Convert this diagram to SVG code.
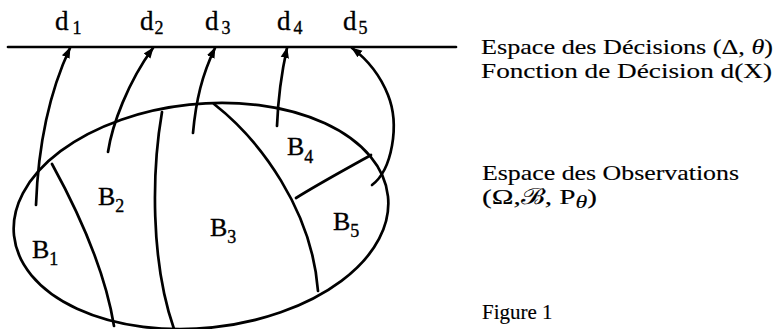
<svg xmlns="http://www.w3.org/2000/svg" width="776" height="329" viewBox="0 0 776 329">
<defs>
<style>
.ln{fill:none;stroke:#000;stroke-width:2.7;stroke-linecap:round}
.t{font-family:"Liberation Serif","DejaVu Serif",serif;fill:#000;stroke:#000;stroke-width:0.35}
.lab{font-size:26px}
.sub{font-size:18px}
.dl{font-size:27px}
.rt{font-size:22px;stroke-width:0.15}
</style>
<marker id="ah" markerWidth="12" markerHeight="10" refX="10" refY="5" orient="auto" markerUnits="userSpaceOnUse">
<path d="M0,0.8 L11,5 L0,9.2 Z" fill="#000"/>
</marker>
</defs>
<rect width="776" height="329" fill="#fff"/>
<g id="decision-line">
<line class="ln" x1="8" y1="47" x2="456" y2="47"/>
<g class="t dl">
<text x="55" y="30">d<tspan class="sub" dx="4" dy="4">1</tspan></text>
<text x="140" y="30">d<tspan class="sub" dx="1" dy="4">2</tspan></text>
<text x="205" y="30">d<tspan class="sub" dx="3" dy="4">3</tspan></text>
<text x="277" y="30">d<tspan class="sub" dx="3" dy="4">4</tspan></text>
<text x="343" y="30">d<tspan class="sub" dx="2" dy="4">5</tspan></text>
</g>
</g>
<g id="observation-space">
<ellipse class="ln" cx="201" cy="216" rx="188" ry="112" transform="rotate(-6 201 216)"/>
<path class="ln" d="M52,164 C80,215 105,270 114,326"/>
<path class="ln" d="M162,112 C152,170 150,260 174,329"/>
<path class="ln" d="M214,104 C260,140 312,210 318,291"/>
<path class="ln" d="M296,198 C320,183 348,168 371,155"/>
<g class="t lab">
<text x="32" y="258">B<tspan class="sub" dy="7">1</tspan></text>
<text x="98" y="205">B<tspan class="sub" dy="7">2</tspan></text>
<text x="210" y="236">B<tspan class="sub" dy="7">3</tspan></text>
<text x="287" y="155">B<tspan class="sub" dy="8">4</tspan></text>
<text x="333" y="230">B<tspan class="sub" dy="7">5</tspan></text>
</g>
</g>
<g id="connectors">
<path class="ln" marker-end="url(#ah)" d="M36,205 C38,150 48,95 70,48"/>
<path class="ln" marker-end="url(#ah)" d="M108,152 C112,125 128,82 153,48"/>
<path class="ln" marker-end="url(#ah)" d="M193,133 C196,100 202,75 215,48"/>
<path class="ln" marker-end="url(#ah)" d="M277,126 C278,100 281,75 287,48"/>
<path class="ln" marker-end="url(#ah)" d="M372,185 C392,170 400,125 388,95 C380,75 368,60 352,48"/>
</g>
<g id="legend" class="t rt">
<text x="481" y="54" textLength="292" lengthAdjust="spacingAndGlyphs">Espace des Décisions (Δ, <tspan font-style="italic">θ</tspan>)</text>
<text x="481" y="78" textLength="291" lengthAdjust="spacingAndGlyphs">Fonction de Décision d(X)</text>
<text x="482" y="180" textLength="257" lengthAdjust="spacingAndGlyphs">Espace des Observations</text>
<text x="482" y="204" textLength="115" lengthAdjust="spacingAndGlyphs">(Ω,ℬ, P<tspan class="sub" font-style="italic" dy="4">θ</tspan><tspan dy="-4">)</tspan></text>
<text x="482" y="319" font-size="21">Figure 1</text>
</g>
</svg>
